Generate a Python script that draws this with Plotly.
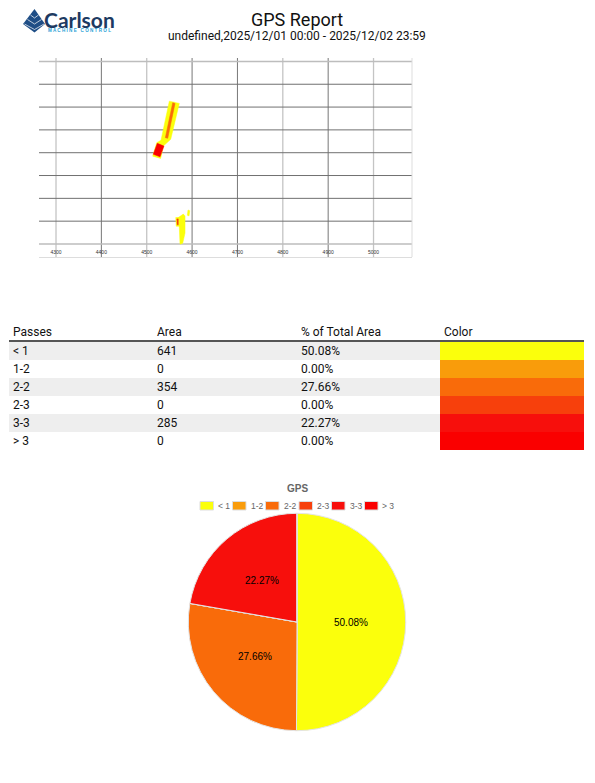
import math
import plotly.graph_objects as go

W, H = 595, 783

# ---- summary data
passes = ["< 1", "1-2", "2-2", "2-3", "3-3", "> 3"]
areas = [641, 0, 354, 0, 285, 0]
percent_labels = ["50.08%", "0.00%", "27.66%", "0.00%", "22.27%", "0.00%"]
colors = ["#fbff0c", "#f99c0b", "#f96b0a", "#f7400c", "#f70f0c", "#fa0000"]

# ---- map data (easting ticks / northing grid, polygons in map units)
x_ticks = [4300, 4400, 4500, 4600, 4700, 4800, 4900, 5000]
x_light = [4300, 4500, 4800, 5000]
x_dark = [4400, 4600, 4700, 4900]
y_light = [0, 800]
y_dark = [100, 200, 300, 400, 500, 600, 700]
x_range = [4262.5, 5084.8]
y_range = [-57, 815]

band_x = [4549.8, 4571.8, 4552.9, 4536.6, 4530.8, 4513.2, 4522, 4531.5]
band_y = [626, 616, 459, 429, 375, 385, 444, 455]
core_x = [4557.3, 4562.4, 4546.3, 4541]
core_y = [619, 616, 463, 466]
block_x = [4523.3, 4538, 4529.3, 4514.5]
block_y = [441, 429, 382, 393]
south_x = [4580.6, 4584.4, 4584.4, 4579.3, 4573.4, 4571.8, 4567.4]
south_y = [131, 123, 48, 3, -1, 76, 113]
speck_x = [4591, 4594.8, 4593.2, 4589.5]
speck_y = [149, 146, 123, 126]
halo_x = [4564, 4572, 4572, 4565]
halo_y = [116, 116, 78, 78]
stripe_x = [4566.5, 4569.5, 4569.5, 4567]
stripe_y = [110, 110, 84, 84]


def px(v):
    return v / W


def py(v):
    return 1 - v / H


def grid_xs(vals):
    out = []
    for v in vals:
        out += [v, v, None]
    return out


def grid_ys(vals):
    out = []
    for v in vals:
        out += [y_range[0], y_range[1], None]
    return out


fig = go.Figure()


def line(xs, ys, color, width):
    fig.add_trace(go.Scatter(x=xs, y=ys, mode="lines", hoverinfo="skip",
                             line=dict(color=color, width=width), showlegend=False))


line(grid_xs(x_light), grid_ys(x_light), "#c4c4c4", 1.3)
line(grid_xs(x_dark), grid_ys(x_dark), "#777777", 1)
hl = []
hy = []
for v in y_light:
    hl += [x_range[0], x_range[1], None]
    hy += [v, v, None]
line(hl, hy, "#bdbdbd", 1.5)
hl = []
hy = []
for v in y_dark:
    hl += [x_range[0], x_range[1], None]
    hy += [v, v, None]
line(hl, hy, "#707070", 1)


def poly(xs, ys, color):
    fig.add_trace(go.Scatter(x=xs + xs[:1], y=ys + ys[:1], mode="lines", fill="toself",
                             fillcolor=color, line=dict(color=color, width=0.5),
                             hoverinfo="skip", showlegend=False))


poly(band_x, band_y, colors[0])
poly(core_x, core_y, colors[2])
poly(block_x, block_y, colors[5])
poly(south_x, south_y, colors[0])
poly(speck_x, speck_y, colors[0])
poly(halo_x, halo_y, colors[0])
poly(stripe_x, stripe_y, colors[3])

# ---- table
shapes = []
row_top = 342
row_h = 18
for i, c in enumerate(colors):
    y0, y1 = row_top + i * row_h, row_top + (i + 1) * row_h
    if i % 2 == 0:
        shapes.append(dict(type="rect", xref="paper", yref="paper", layer="below", x0=px(9), x1=px(440),
                           y0=py(y1), y1=py(y0), fillcolor="#eeeeee", line_width=0))
    shapes.append(dict(type="rect", xref="paper", yref="paper", layer="below", x0=px(440), x1=px(584),
                       y0=py(y1), y1=py(y0), fillcolor=c, line_width=0))

# cells holding < or > grow in go.Table, so those labels are annotations below
table_passes = ["" if ("<" in p or ">" in p) else p for p in passes]
fig.add_trace(go.Table(
    domain=dict(x=[px(5), px(580)], y=[py(451), py(319)]),
    columnwidth=[144, 144, 143, 144],
    header=dict(values=["Passes", "Area", "% of Total Area", "Color"],
                fill_color="rgba(0,0,0,0)", line_width=0, height=19, align="left",
                font=dict(family="Roboto", size=12, color="#111111")),
    cells=dict(values=[table_passes, areas, percent_labels, [""] * 6],
               fill_color="rgba(0,0,0,0)",
               line_width=0, height=18, align="left",
               font=dict(family="Roboto", size=12, color="#111111")),
))

# ---- pie
pie_cx, pie_cy, pie_r = 297, 622, 108.7
fig.add_trace(go.Pie(
    labels=passes, values=areas, textinfo="none", sort=False,
    direction="clockwise", rotation=0, hole=0, showlegend=False,
    marker=dict(colors=colors, line=dict(color="#e4e4e4", width=1)),
    domain=dict(x=[px(pie_cx - pie_r), px(pie_cx + pie_r)], y=[py(pie_cy + pie_r), py(pie_cy - pie_r)]),
))


def esc(s):
    return s.replace("<", "&lt;").replace(">", "&gt;")


# ---- titles, logo, legend
ann = [
    dict(text="GPS Report", x=px(297), y=py(20), font=dict(family="Roboto", size=18, color="#111111")),
    dict(text="undefined,2025/12/01 00:00 - 2025/12/02 23:59", x=px(297), y=py(36),
         font=dict(family="Roboto", size=12, color="#111111")),
    dict(text="<b>GPS</b>", x=px(297), y=py(488),
         font=dict(family="Liberation Sans", size=10, color="#666666")),
    dict(text="<b>Carlson</b>", x=px(79.5), y=py(19),
         font=dict(family="Lato", size=21, color="#1d3a62")),
    dict(text="<b>M A C H I N E   C O N T R O L</b>", x=px(79), y=py(30.5),
         font=dict(family="Liberation Sans", size=4.6, color="#2a9fd6")),
]
for i, p in enumerate(passes):
    if "<" in p or ">" in p:
        ann.append(dict(text=esc(p), x=px(11), y=py(row_top + 9 + i * row_h), xanchor="left",
                        font=dict(family="Roboto", size=12, color="#111111")))

# slice labels sit at mid radius of each slice's mid angle
total = sum(areas)
cum = 0
for a, t in zip(areas, percent_labels):
    if a > 0:
        mid = 2 * math.pi * (cum + a / 2) / total
        ann.append(dict(text=t, x=px(pie_cx + pie_r / 2 * math.sin(mid)), y=py(pie_cy - pie_r / 2 * math.cos(mid)),
                        font=dict(family="Liberation Sans", size=10, color="#000000")))
    cum += a

shapes += [
    dict(type="path", path=f"M {px(34.5)} {py(9)} L {px(45)} {py(24)} L {px(34.5)} {py(32.5)} L {px(23)} {py(24)} Z",
         xref="paper", yref="paper", fillcolor="#1f4e86", line_width=0),
    dict(type="path", path=f"M {px(30.5)} {py(15)} L {px(34.5)} {py(18)} L {px(38.5)} {py(15)}",
         xref="paper", yref="paper", line=dict(color="#ffffff", width=0.7)),
    dict(type="path", path=f"M {px(27.5)} {py(19.5)} L {px(34.5)} {py(24)} L {px(41.5)} {py(19.5)}",
         xref="paper", yref="paper", line=dict(color="#ffffff", width=0.7)),
    dict(type="path", path=f"M {px(24.5)} {py(24)} L {px(34.5)} {py(29.5)} L {px(44)} {py(24)}",
         xref="paper", yref="paper", line=dict(color="#ffffff", width=0.7)),
    dict(type="line", xref="paper", yref="paper", x0=px(9), x1=px(584), y0=py(341), y1=py(341),
         line=dict(color="#555555", width=2)),
    dict(type="line", xref="paper", yref="paper", x0=px(412), x1=px(412), y0=py(58), y1=py(257),
         line=dict(color="#dddddd", width=1)),
]
leg_x = [200, 232.5, 265.5, 299, 331.5, 364.5]
for name, c, x0 in zip(passes, colors, leg_x):
    shapes.append(dict(type="rect", xref="paper", yref="paper", x0=px(x0), x1=px(x0 + 13.5),
                       y0=py(510), y1=py(501.5), fillcolor=c, line=dict(color="#dddddd", width=1)))
    ann.append(dict(text=esc(name), x=px(x0 + 16), y=py(505.5), xanchor="left",
                    font=dict(family="Liberation Sans", size=8.5, color="#666666")))
for a in ann:
    a.update(xref="paper", yref="paper", showarrow=False)
    a.setdefault("xanchor", "center")
    a.setdefault("yanchor", "middle")

fig.update_layout(
    width=W, height=H, margin=dict(l=0, r=0, t=0, b=0),
    paper_bgcolor="#ffffff", plot_bgcolor="rgba(0,0,0,0)", showlegend=False,
    annotations=ann, shapes=shapes,
    xaxis=dict(domain=[px(39), px(412)], range=x_range, tickvals=x_ticks, showgrid=False,
               zeroline=False, showline=True, linecolor="#dddddd", mirror=False,
               ticklabelposition="inside", ticks="",
               tickfont=dict(family="Liberation Sans", size=5, color="#333333")),
    yaxis=dict(domain=[py(257), py(58)], range=y_range, showgrid=False, zeroline=False,
               showticklabels=False, ticks="", showline=False),
)

fig.write_html("out.html", config=dict(displayModeBar=False),
               post_script="document.body.style.margin='0';")
